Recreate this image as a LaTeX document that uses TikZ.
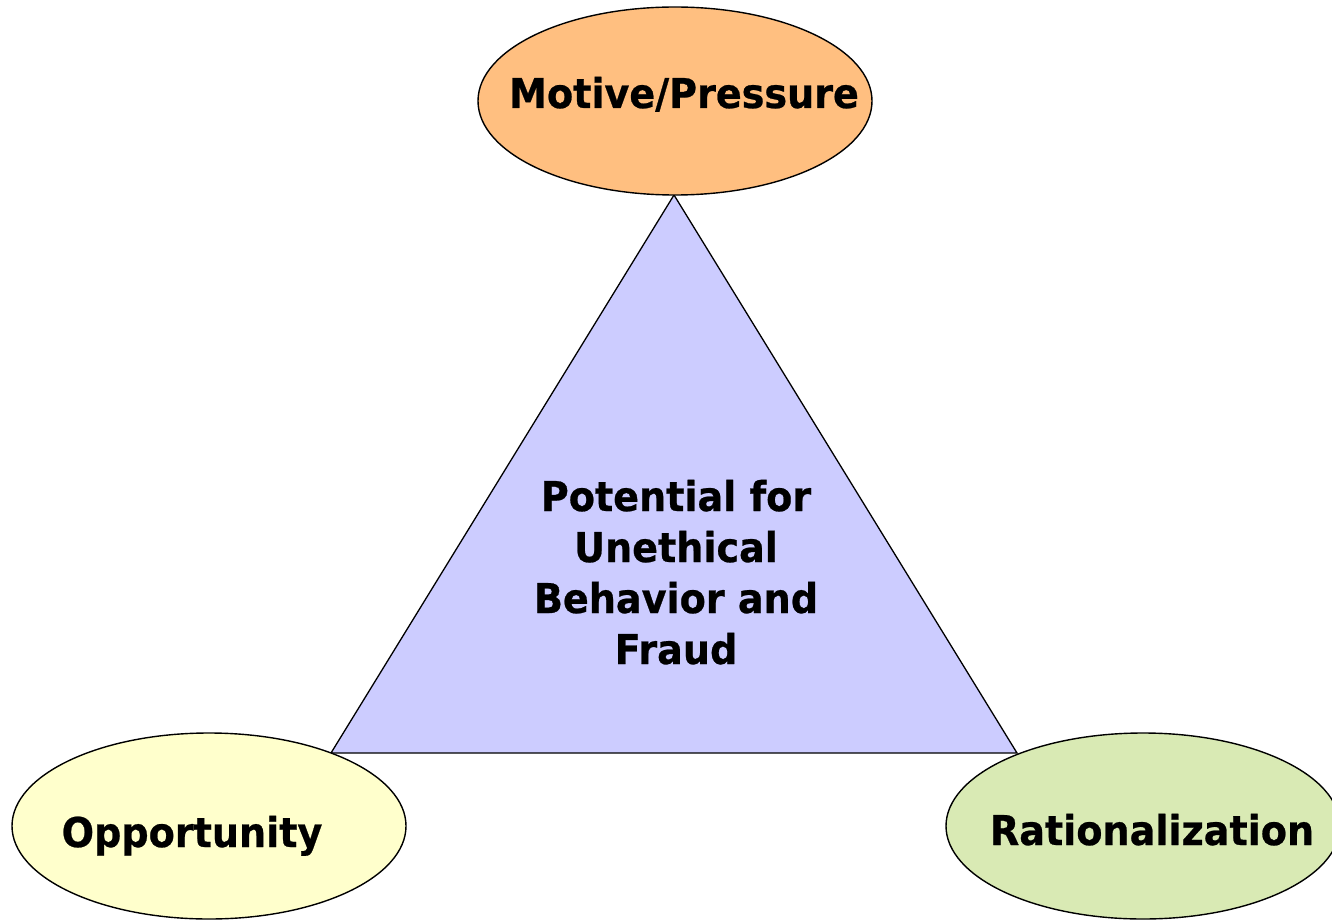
\documentclass[tikz,border=0pt]{standalone}
\usepackage{fontspec}
\setmainfont{DejaVu Sans}
\newfontfamily\labelfont[FakeStretch=0.93,FakeBold=0.6]{DejaVu Sans Bold}
\usetikzlibrary{shapes.geometric}
\definecolor{motivefill}{RGB}{255,191,128}
\definecolor{trifill}{RGB}{204,204,255}
\definecolor{oppfill}{RGB}{255,255,204}
\definecolor{ratfill}{RGB}{217,234,180}
\tikzset{
  oval/.style={ellipse, draw=black, line width=1.4pt, minimum width=394pt, minimum height=186pt, inner sep=0pt},
  lbl/.style={font=\labelfont\fontsize{41}{51}\selectfont, text=black, inner sep=0pt, anchor=base},
  tri/.style={draw=black, line width=1.3pt, fill=trifill, line join=miter}
}
\begin{document}
\begin{tikzpicture}[x=1pt,y=-1pt]
\useasboundingbox (0,0) rectangle (1332,920);
\clip (0,0) rectangle (1332,920);
\coordinate (apex) at (674,195);
\coordinate (bl) at (331,753);
\coordinate (br) at (1017,753);
\draw[tri] (apex) -- (bl) -- (br) -- cycle;
\node[oval, fill=motivefill, minimum width=394pt, minimum height=188pt] (motive) at (675,101) {};
\node[oval, fill=oppfill] (opp) at (209,826) {};
\node[oval, fill=ratfill] (rat) at (1143,826) {};
\node[lbl] (tmotive) at (684,108) {Motive/Pressure};
\node[lbl] (topp) at (192,847) {Opportunity};
\node[lbl] (trat) at (1152,845) {Rationalization};
\node[lbl] (t1) at (676,511) {Potential for};
\node[lbl] (t2) at (676,562) {Unethical};
\node[lbl] (t3) at (676,613) {Behavior and};
\node[lbl] (t4) at (676,664) {Fraud};
\end{tikzpicture}
\end{document}
